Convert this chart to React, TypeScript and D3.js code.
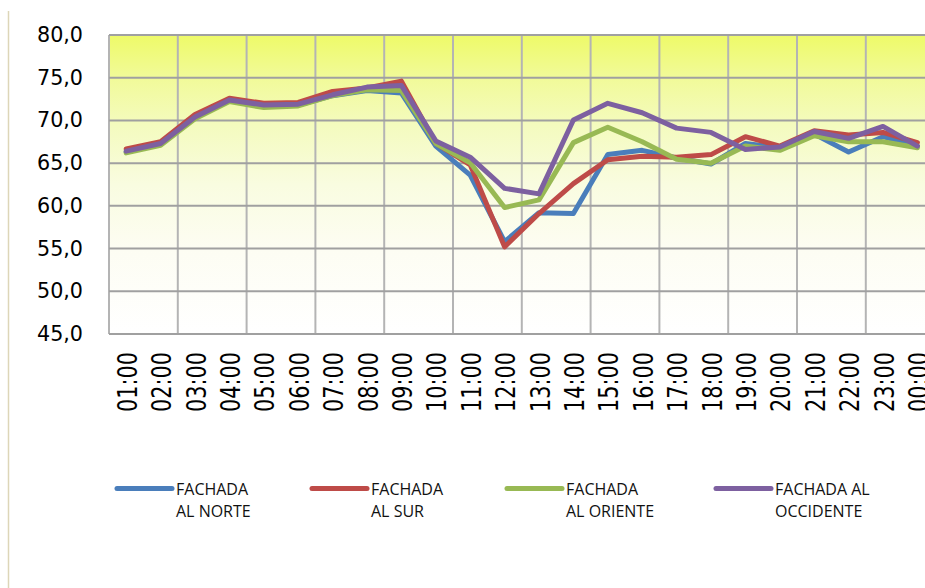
import React from "react";
import * as d3 from "d3";

const hours = ["01:00","02:00","03:00","04:00","05:00","06:00","07:00","08:00","09:00","10:00","11:00","12:00","13:00","14:00","15:00","16:00","17:00","18:00","19:00","20:00","21:00","22:00","23:00","00:00"];

const norte = [66.3,67.3,70.4,72.4,71.7,71.8,72.9,73.5,73.2,67.0,63.6,55.8,59.2,59.1,66.0,66.5,65.6,64.9,67.3,66.8,68.4,66.3,68.1,67.0];
const sur = [66.65,67.5,70.7,72.6,72.0,72.1,73.4,73.8,74.6,67.3,64.8,55.2,59.1,62.6,65.4,65.8,65.7,66.0,68.1,67.0,68.8,68.3,68.6,67.4];
const oriente = [66.2,67.1,70.2,72.2,71.5,71.7,72.9,73.6,73.5,67.3,65.05,59.8,60.7,67.4,69.2,67.5,65.45,65.0,67.0,66.5,68.2,67.5,67.5,66.8];
const occidente = [66.4,67.3,70.4,72.4,71.8,71.9,73.0,73.9,74.1,67.6,65.7,62.05,61.4,70.05,72.0,70.9,69.1,68.6,66.6,66.9,68.7,67.9,69.3,67.0];

const seriesNames = [["FACHADA","AL NORTE"],["FACHADA","AL SUR"],["FACHADA","AL ORIENTE"],["FACHADA AL","OCCIDENTE"]];
const seriesColors = ["#4a7ebb","#be4b48","#98b954","#7d60a0"];
const yTicks = [45,50,55,60,65,70,75,80];
const legendX = [117,312,507,716];

const W = 925, H = 588;
const plotLeft = 109, plotTop = 35, plotBottom = 334;
const band = 34.4;
const plotRight = plotLeft + band * hours.length;

export default function App() {
  const x = d3.scaleBand<string>().domain(hours).range([plotLeft, plotRight]).padding(0);
  const y = d3.scaleLinear().domain([45, 80]).range([plotBottom, plotTop]);
  const all = [norte, sur, oriente, occidente];
  const line = d3.line<number>()
    .x((_, i) => (x(hours[i]) as number) + x.bandwidth() / 2)
    .y((d) => y(d));
  const vGrid = hours.map((_, i) => i).filter((i) => i % 2 === 0).map((i) => x(hours[i]) as number);

  return (
    <svg width={W} height={H} style={{ position: "absolute", left: 0, top: 0, background: "#fff" }}>
      <defs>
        <linearGradient id="bg" x1="0" y1="0" x2="0" y2="1">
          <stop offset="0" stopColor="#eefa68" />
          <stop offset="0.14" stopColor="#f1fa98" />
          <stop offset="0.3" stopColor="#f4fbbe" />
          <stop offset="0.5" stopColor="#f9fce0" />
          <stop offset="0.72" stopColor="#fdfdf3" />
          <stop offset="1" stopColor="#ffffff" />
        </linearGradient>
      </defs>
      <line x1={8.5} x2={8.5} y1={11} y2={H} stroke="#ddd6b8" strokeWidth={1.5} />
      <rect x={plotLeft} y={plotTop} width={plotRight - plotLeft} height={plotBottom - plotTop} fill="url(#bg)" />
      {vGrid.map((gx, i) => (
        <line key={"v" + i} x1={gx} x2={gx} y1={plotTop} y2={plotBottom} stroke="#b4b4b4" strokeWidth={2} />
      ))}
      {yTicks.map((t) => (
        <line key={"h" + t} x1={plotLeft} x2={plotRight} y1={y(t)} y2={y(t)} stroke="#a0a0a0" strokeWidth={2} />
      ))}
      {yTicks.map((t) => (
        <text key={"yl" + t} x={83} y={y(t) + 7} textAnchor="end" fontFamily="DejaVu Sans" fontSize={22}
          textLength={46} lengthAdjust="spacingAndGlyphs" fill="#000">
          {t.toFixed(1).replace(".", ",")}
        </text>
      ))}
      {hours.map((h) => {
        const cx = (x(h) as number) + x.bandwidth() / 2 + 10.5;
        return (
          <text key={"xl" + h} transform={`translate(${cx},352) rotate(-90)`} textAnchor="end"
            fontFamily="DejaVu Sans" fontSize={26} textLength={60} lengthAdjust="spacingAndGlyphs" fill="#000">
            {h}
          </text>
        );
      })}
      {all.map((s, i) => (
        <path key={"s" + i} d={line(s) as string} fill="none" stroke={seriesColors[i]} strokeWidth={5}
          strokeLinejoin="round" strokeLinecap="round" />
      ))}
      {seriesNames.map((nm, i) => (
        <g key={"lg" + i}>
          <line x1={legendX[i]} x2={legendX[i] + 55} y1={488.5} y2={488.5} stroke={seriesColors[i]} strokeWidth={5} strokeLinecap="round" />
          <text x={legendX[i] + 59} y={494.5} fontFamily="Open Sans" fontSize={16} fill="#111">{nm[0]}</text>
          <text x={legendX[i] + 59} y={516.5} fontFamily="Open Sans" fontSize={16} fill="#111">{nm[1]}</text>
        </g>
      ))}
    </svg>
  );
}
